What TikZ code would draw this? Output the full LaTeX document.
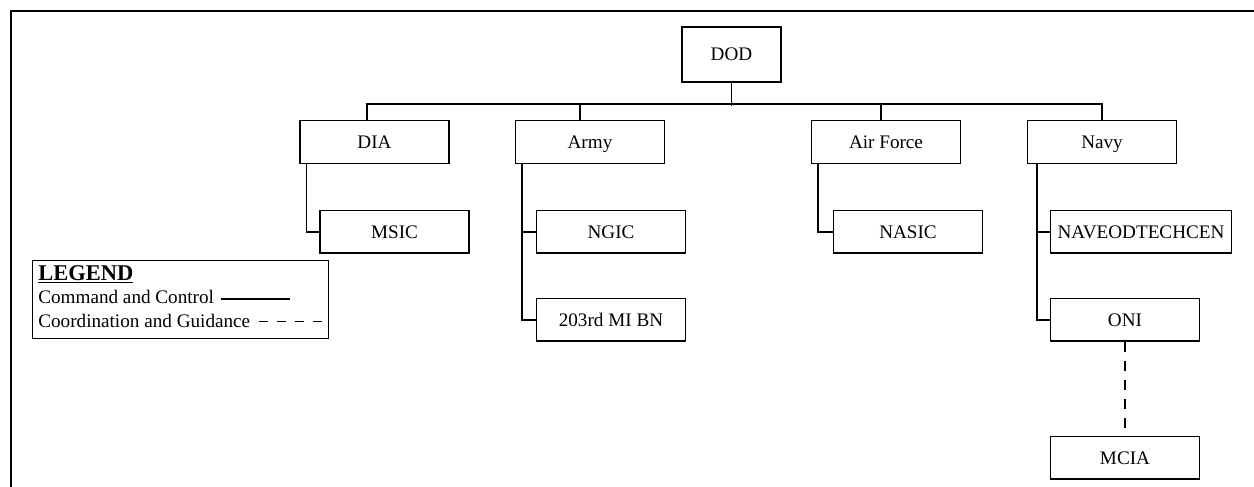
\documentclass[tikz,border=0pt]{standalone}
\usepackage{fontspec}
\setmainfont{Liberation Serif}
\usetikzlibrary{positioning}

\tikzset{
  unit/.style={draw, line width=0.85pt, minimum width=89.4pt, minimum height=25.5pt,
    inner sep=0pt, text height=7.6pt, text depth=0pt, font=\fontsize{11.5}{13}\selectfont},
  link/.style={line width=0.85pt},
  guide/.style={line width=0.85pt, dash pattern=on 6pt off 5.4pt},
  legtext/.style={anchor=base west, inner sep=0pt, font=\fontsize{11.5}{13}\selectfont},
}

\begin{document}
\begin{tikzpicture}[x=0.6pt,y=-0.6pt]
\useasboundingbox (0,0) rectangle (1254,487);
% page frame, cut off at the right and at the bottom
\draw[line width=1.2pt] (11,487) -- (11,11) -- (1254,11);

% the top box
\node[unit, minimum width=59.4pt, minimum height=33pt] (dod) at (731.5,54.5) {DOD};

% Now the four branches under it
\node[unit] (dia) at (374.5,142) {DIA};
\node[unit] (army) at (590,142) {Army};
\node[unit] (airforce) at (886,142) {Air Force};
\node[unit] (navy) at (1102,142) {Navy};

% the centres below each branch
\node[unit, below=27.6pt of dia.south west, anchor=north west, xshift=12pt] (msic) {MSIC};
\node[unit, below=27.6pt of army.south west, anchor=north west, xshift=12.6pt] (ngic) {NGIC};
\node[unit, below=26.4pt of ngic] (bn203) {203rd MI BN};
\node[unit, below=27.6pt of airforce.south west, anchor=north west, xshift=13.2pt] (nasic) {NASIC};
\node[unit, minimum width=108.6pt, below=27.6pt of navy.south west, anchor=north west,
  xshift=13.8pt] (naveod) {NAVEODTECHCEN};
\node[unit, below=26.4pt of naveod.south west, anchor=north west] (oni) {ONI};
\node[unit, below=56.4pt of oni] (mcia) {MCIA};

% Draw the bus from DOD to the branches
\draw[link] (dod.south) -- ++(0,23);
\draw[link] ([xshift=-4.5pt]dia.north) -- ++(0,-16) -| (navy.north);
\draw[link] ([xshift=-6pt]army.north) -- ++(0,-16);
\draw[link] ([xshift=-3pt]airforce.north) -- ++(0,-16);

% branch to centre links
\draw[link] ([xshift=4.2pt]dia.south west) |- (msic.west);
\draw[link] ([xshift=4.2pt]army.south west) |- (ngic.west);
\draw[link] ([xshift=4.2pt]army.south west) |- (bn203.west);
\draw[link] ([xshift=4.2pt]airforce.south west) |- (nasic.west);
\draw[link] ([xshift=6pt]navy.south west) |- (naveod.west);
\draw[link] ([xshift=6pt]navy.south west) |- (oni.west);
\draw[guide] (oni.south) -- (mcia.north);

% legend
\node[draw, line width=0.85pt, minimum width=177.6pt, minimum height=46.8pt, inner sep=0pt,
  anchor=north west] (legend) at (32,260) {};
\node[legtext, font=\fontsize{13.5}{15}\selectfont\bfseries] (legtitle) at (38,280) {\underline{LEGEND}};
\node[legtext] (cmdtext) at (38,303) {Command and Control};
\node[legtext] (cootext) at (38,327) {Coordination and Guidance};
\draw[link] ([xshift=4.2pt, yshift=2.4pt]cmdtext.base east) -- ++(69,0);
\draw[link, dash pattern=on 5.7pt off 5.1pt] ([xshift=4.8pt, yshift=3.2pt]cootext.base east) -- ++(65,0);
\end{tikzpicture}
\end{document}
